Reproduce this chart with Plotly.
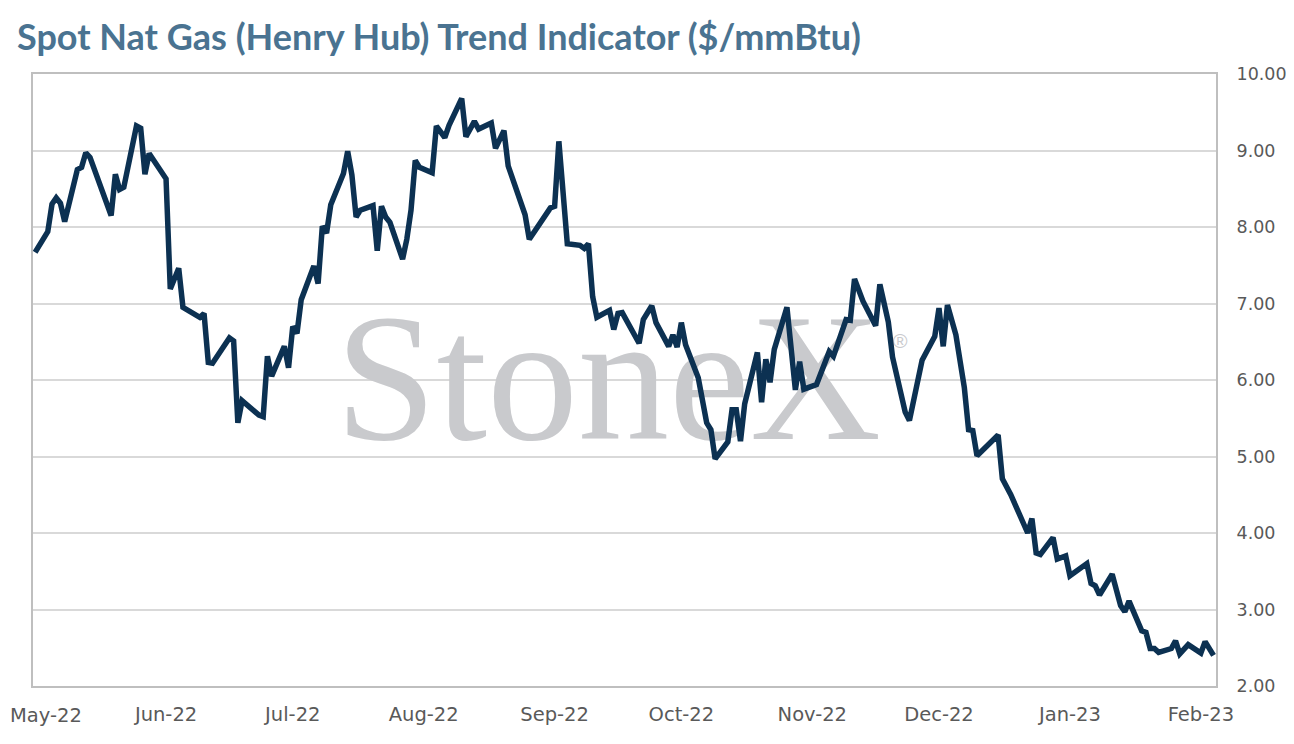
import plotly.graph_objects as go

# Henry Hub spot price trend indicator, $/mmBtu
dates = [
    "2022-05-01", "2022-05-04", "2022-05-05", "2022-05-06", "2022-05-07", "2022-05-08",
    "2022-05-11", "2022-05-12", "2022-05-13", "2022-05-14", "2022-05-19", "2022-05-20",
    "2022-05-21", "2022-05-22", "2022-05-25", "2022-05-26", "2022-05-27", "2022-05-28",
    "2022-06-01", "2022-06-02", "2022-06-04", "2022-06-05", "2022-06-09", "2022-06-10",
    "2022-06-11", "2022-06-12", "2022-06-16", "2022-06-17", "2022-06-18", "2022-06-19",
    "2022-06-23", "2022-06-24", "2022-06-25", "2022-06-26", "2022-06-29", "2022-06-30",
    "2022-07-01", "2022-07-02", "2022-07-03", "2022-07-06", "2022-07-07", "2022-07-08",
    "2022-07-09", "2022-07-10", "2022-07-13", "2022-07-14", "2022-07-15", "2022-07-16",
    "2022-07-17", "2022-07-20", "2022-07-21", "2022-07-22", "2022-07-23", "2022-07-24",
    "2022-07-27", "2022-07-28", "2022-07-29", "2022-07-30", "2022-07-31", "2022-08-03",
    "2022-08-04", "2022-08-06", "2022-08-07", "2022-08-10", "2022-08-11", "2022-08-13",
    "2022-08-14", "2022-08-17", "2022-08-18", "2022-08-20", "2022-08-21", "2022-08-25",
    "2022-08-26", "2022-08-31", "2022-09-01", "2022-09-02", "2022-09-04", "2022-09-07",
    "2022-09-08", "2022-09-09", "2022-09-10", "2022-09-11", "2022-09-14", "2022-09-15",
    "2022-09-16", "2022-09-17", "2022-09-21", "2022-09-22", "2022-09-24", "2022-09-25",
    "2022-09-28", "2022-09-29", "2022-09-30", "2022-10-01", "2022-10-02", "2022-10-05",
    "2022-10-07", "2022-10-08", "2022-10-09", "2022-10-12", "2022-10-13", "2022-10-14",
    "2022-10-15", "2022-10-16", "2022-10-19", "2022-10-20", "2022-10-21", "2022-10-22",
    "2022-10-23", "2022-10-26", "2022-10-28", "2022-10-29", "2022-10-30", "2022-11-02",
    "2022-11-05", "2022-11-06", "2022-11-09", "2022-11-10", "2022-11-11", "2022-11-13",
    "2022-11-16", "2022-11-17", "2022-11-19", "2022-11-20", "2022-11-23", "2022-11-24",
    "2022-11-27", "2022-11-30", "2022-12-01", "2022-12-02", "2022-12-03", "2022-12-05",
    "2022-12-07", "2022-12-08", "2022-12-09", "2022-12-10", "2022-12-15", "2022-12-16",
    "2022-12-18", "2022-12-22", "2022-12-23", "2022-12-24", "2022-12-25", "2022-12-28",
    "2022-12-29", "2022-12-31", "2023-01-01", "2023-01-05", "2023-01-06", "2023-01-07",
    "2023-01-08", "2023-01-11", "2023-01-13", "2023-01-14", "2023-01-15", "2023-01-18",
    "2023-01-19", "2023-01-20", "2023-01-21", "2023-01-22", "2023-01-25", "2023-01-26",
    "2023-01-27", "2023-01-29", "2023-02-01", "2023-02-02", "2023-02-04",
]

prices = [
    7.67, 7.94, 8.30, 8.38, 8.31, 8.07,
    8.75, 8.78, 8.97, 8.91, 8.15, 8.69,
    8.49, 8.52, 9.32, 9.29, 8.69, 8.96,
    8.63, 7.19, 7.46, 6.95, 6.82, 6.87,
    6.23, 6.22, 6.55, 6.51, 5.44, 5.73,
    5.54, 5.52, 6.31, 6.05, 6.44, 6.16,
    6.70, 6.61, 7.05, 7.49, 7.26, 8.01,
    7.92, 8.29, 8.70, 8.99, 8.68, 8.13,
    8.22, 8.28, 7.69, 8.27, 8.13, 8.06,
    7.58, 7.84, 8.22, 8.87, 8.78, 8.71,
    9.32, 9.17, 9.33, 9.68, 9.18, 9.38,
    9.28, 9.36, 9.03, 9.26, 8.80, 8.16,
    7.84, 8.25, 8.27, 9.12, 7.78, 7.76,
    7.72, 7.78, 7.09, 6.82, 6.91, 6.66,
    6.87, 6.88, 6.48, 6.79, 6.97, 6.75,
    6.44, 6.59, 6.43, 6.75, 6.46, 6.03,
    5.44, 5.35, 4.97, 5.19, 5.61, 5.61,
    5.20, 5.69, 6.36, 5.71, 6.27, 5.97,
    6.40, 6.95, 5.87, 6.24, 5.88, 5.94,
    6.37, 6.31, 6.79, 6.78, 7.32, 7.03,
    6.71, 7.25, 6.76, 6.30, 5.58, 5.47,
    6.26, 6.57, 6.94, 6.44, 6.98, 6.59,
    5.90, 5.35, 5.34, 5.01, 5.28, 4.71,
    4.50, 4.00, 4.19, 3.74, 3.72, 3.94,
    3.66, 3.70, 3.44, 3.60, 3.34, 3.31,
    3.19, 3.46, 3.05, 2.97, 3.11, 2.72,
    2.70, 2.49, 2.49, 2.44, 2.49, 2.59,
    2.42, 2.54, 2.43, 2.58, 2.40,
]

TITLE = "Spot Nat Gas (Henry Hub) Trend Indicator ($/mmBtu)"
FIRST_MONTH_LABEL = "May-22"   # sits on the left edge, plotly hides it, so it is placed by hand
NAVY = "#0c3152"
GRID = "#d9d9d9"
FRAME = "#bfbfbf"
WATERMARK = "#c9cacd"
LABEL_GREY = "#595959"
X_TICK_FONT = dict(family="DejaVu Sans, Lato, sans-serif", size=19.5, color=LABEL_GREY)
Y_TICK_FONT = dict(family="DejaVu Sans, Lato, sans-serif", size=17.5, color=LABEL_GREY)

fig = go.Figure()

# StoneX watermark, drawn as text traces first so the price line sits on top
fig.add_trace(go.Scatter(
    x=["2022-09-13 17:00"], y=[5.82], mode="text", text=["StoneX"],
    textposition="middle center", hoverinfo="skip", showlegend=False,
    textfont=dict(family="Liberation Serif, DejaVu Serif, serif", size=182, color=WATERMARK),
))
fig.add_trace(go.Scatter(
    x=["2022-11-21 19:00"], y=[6.48], mode="text", text=["®"],
    textposition="middle center", hoverinfo="skip", showlegend=False,
    textfont=dict(family="Liberation Sans, sans-serif", size=20, color=WATERMARK),
))

fig.add_trace(go.Scatter(
    x=dates, y=prices, mode="lines",
    line=dict(color=NAVY, width=5.5, shape="linear"),
    hoverinfo="x+y", showlegend=False,
))

fig.add_annotation(
    text=FIRST_MONTH_LABEL, xref="paper", yref="paper", x=-0.0211, y=-0.0474,
    xanchor="left", yanchor="middle", showarrow=False, font=X_TICK_FONT,
)

# page body adds an 8px margin, so the figure is sized to fill the rest
fig.update_layout(
    width=1286, height=736,
    margin=dict(l=25, r=78, t=66, b=58),
    paper_bgcolor="white", plot_bgcolor="white",
    title=dict(
        text=f"<b>{TITLE}</b>", xref="container", yref="container",
        x=0.007, xanchor="left", y=0.9595, yanchor="middle",
        font=dict(family="Lato, Open Sans, sans-serif", size=36, color="#4a7391"),
    ),
    xaxis=dict(
        type="date",
        range=["2022-04-30 12:00", "2023-02-04 14:00"],
        tick0="2022-05-01", dtick="M1", tickformat="%b-%y",
        showgrid=False, showline=True, linecolor=FRAME, linewidth=2, mirror=True,
        ticks="", ticklabelstandoff=10, tickfont=X_TICK_FONT,
        automargin=False, fixedrange=True,
    ),
    yaxis=dict(
        side="right", range=[2, 10], dtick=1, tickformat=".2f",
        showgrid=True, gridcolor=GRID, gridwidth=2,
        showline=True, linecolor=FRAME, linewidth=2, mirror=True,
        zeroline=False, ticks="", ticklabelstandoff=15, tickfont=Y_TICK_FONT,
        automargin=False, fixedrange=True,
    ),
)

fig.write_html("out.html")
